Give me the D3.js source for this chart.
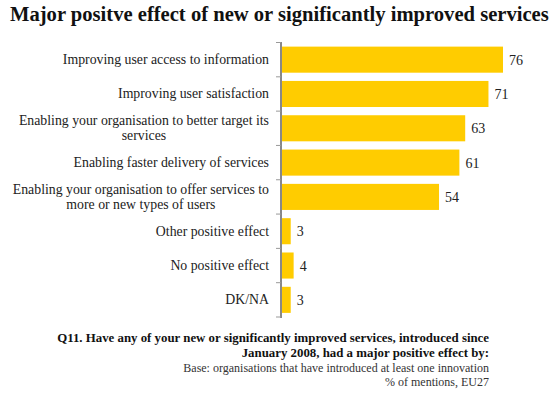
<!DOCTYPE html>
<html>
<head>
<meta charset="utf-8">
<script src="https://cdn.jsdelivr.net/npm/d3@7"></script>
<style>
  body { margin: 0; background: #fff; }
</style>
</head>
<body>
<div id="chart"></div>
<script>
// data
var categories = [
    ["Improving user access to information"],
    ["Improving user satisfaction"],
    ["Enabling your organisation to better target its", "services"],
    ["Enabling faster delivery of services"],
    ["Enabling your organisation to offer services to", "more or new types of users"],
    ["Other positive effect"],
    ["No positive effect"],
    ["DK/NA"]
];
var values = [76, 71, 63, 61, 54, 3, 4, 3];

var title = "Major positve effect of new or significantly improved services";
var footBold = ["Q11. Have any of your new or significantly improved services, introduced since",
                "January 2008, had a major positive effect by:"];
var footPlain = ["Base: organisations that have introduced at least one innovation",
                 "% of mentions, EU27"];

var font = "'Liberation Serif', 'DejaVu Serif', serif";

var svgWidth = 558;
var svgHeight = 395;

var svg = d3.select("#chart")
    .append("svg")
    .attr("width", svgWidth)
    .attr("height", svgHeight)
    .attr("font-family", font);

// title
svg.append("text")
    .attr("x", 10)
    .attr("y", 21)
    .attr("font-family", font)
    .style("font-weight", "bold")
    .style("font-size", "20.6px")
    .style("fill", "#111")
    .text(title);

var ids = d3.range(values.length);

var y = d3.scaleBand()
    .domain(ids)
    .range([42.5, 317])
    .paddingInner(0.24)
    .paddingOuter(0.12);

var x = d3.scaleLinear()
    .domain([0, 76])
    .range([282, 503]);

var step = y.step();

// axis line + ticks between categories
var axis = svg.append("g");
axis.append("line")
    .attr("x1", 281).attr("x2", 281)
    .attr("y1", 42).attr("y2", 318)
    .style("stroke", "#888")
    .style("stroke-width", 2);

var tickYs = ids.map(function(i) { return y(i) - step * y.paddingInner() / 2; });
tickYs.push(y(ids.length - 1) + y.bandwidth() + step * y.paddingInner() / 2);
axis.selectAll(".tick")
    .data(tickYs)
    .enter()
    .append("line")
    .attr("x1", 276).attr("x2", 281)
    .attr("y1", function(d) { return d; })
    .attr("y2", function(d) { return d; })
    .style("stroke", "#999")
    .style("stroke-width", 1);

// bars
svg.selectAll(".bar")
    .data(ids)
    .enter()
    .append("rect")
    .attr("class", "bar")
    .attr("x", x(0))
    .attr("y", function(i) { return y(i); })
    .attr("width", function(i) { return x(values[i]) - x(0); })
    .attr("height", y.bandwidth())
    .style("fill", "#FFCC00");

// value labels
svg.selectAll(".val")
    .data(ids)
    .enter()
    .append("text")
    .attr("class", "val")
    .attr("x", function(i) { return x(values[i]) + 6; })
    .attr("y", function(i) { return y(i) + y.bandwidth() / 2 + 5; })
    .attr("font-family", font)
    .style("font-size", "14px")
    .style("fill", "#222")
    .text(function(i) { return values[i]; });

// category labels (multi-line ones are centred inside a right-aligned block)
var labelRight = 269;
var lineGap = 15;
ids.forEach(function(i) {
    var lines = categories[i];
    var cy = y(i) + y.bandwidth() / 2;
    var g = svg.append("g");
    var texts = g.selectAll("text")
        .data(lines)
        .enter()
        .append("text")
        .attr("y", function(d, k) { return cy + 4.5 + (k - (lines.length - 1) / 2) * lineGap; })
        .attr("font-family", font)
        .style("font-size", "13.8px")
        .style("fill", "#222")
        .text(function(d) { return d; });
    var widths = [];
    texts.each(function() { widths.push(this.getComputedTextLength()); });
    var blockW = d3.max(widths);
    var centre = labelRight - blockW / 2;
    texts.attr("x", centre).attr("text-anchor", "middle");
});

// footnote
svg.selectAll(".foot-b")
    .data(footBold)
    .enter()
    .append("text")
    .attr("x", 489)
    .attr("y", function(d, k) { return 342 + k * 15; })
    .attr("text-anchor", "end")
    .attr("font-family", font)
    .style("font-weight", "bold")
    .style("font-size", "12.85px")
    .style("fill", "#111")
    .text(function(d) { return d; });

svg.selectAll(".foot-p")
    .data(footPlain)
    .enter()
    .append("text")
    .attr("x", 489)
    .attr("y", function(d, k) { return 372 + k * 14; })
    .attr("text-anchor", "end")
    .attr("font-family", font)
    .style("font-size", "12px")
    .style("fill", "#333")
    .text(function(d) { return d; });
</script>
</body>
</html>
